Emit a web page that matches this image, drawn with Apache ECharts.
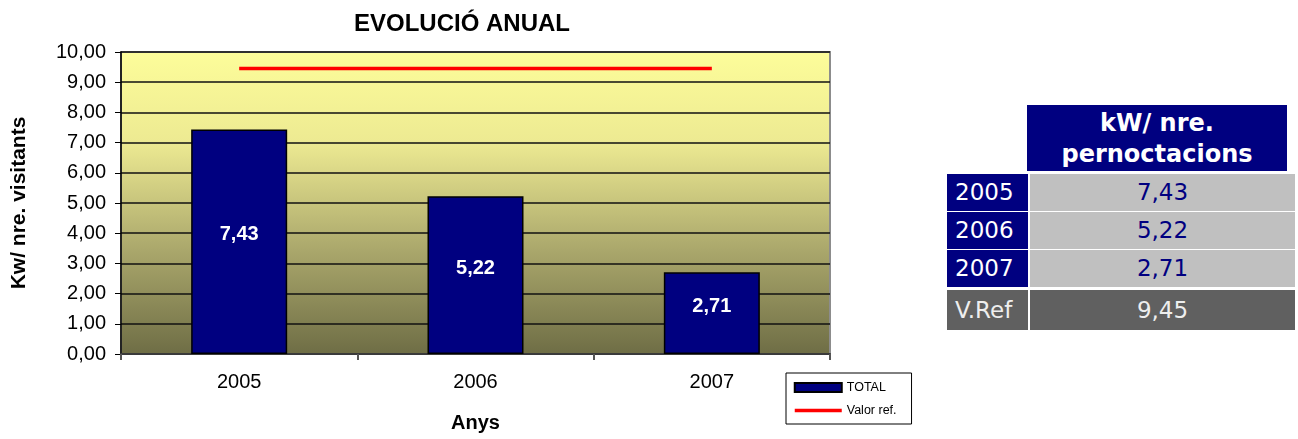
<!DOCTYPE html>
<html>
<head>
<meta charset="utf-8">
<script src="https://cdn.jsdelivr.net/npm/echarts@6/dist/echarts.min.js"></script>
<style>
  html, body { margin: 0; padding: 0; background: #fff; }
  #chart { position: absolute; left: 0; top: 0; width: 1298px; height: 439px; }
  .cell { position: absolute; box-sizing: border-box; font-family: "DejaVu Sans", Verdana, sans-serif; font-size: 23px; white-space: nowrap; }
</style>
</head>
<body>
<div id="chart"></div>
<div id="table"></div>
<script>
// ---- data ----
const titleText = 'EVOLUCIÓ ANUAL';
const categories = ['2005', '2006', '2007'];
const totalValues = [7.43, 5.22, 2.71];
const refValue = 9.45;
const refValues = [9.45, 9.45, 9.45];
const yAxisName = 'Kw/ nre. visitants';
const xAxisName = 'Anys';
const seriesNames = ['TOTAL', 'Valor ref.'];
const tableHeader = ['kW/ nre.', 'pernoctacions'];
const tableRefLabel = 'V.Ref';

const fmt = v => v.toFixed(2).replace('.', ',');

const chart = echarts.init(document.getElementById('chart'), null, { renderer: 'canvas' });
chart.setOption({
  backgroundColor: '#ffffff',
  animation: false,
  title: {
    text: titleText, left: 349, top: 7,
    textStyle: { fontFamily: 'Liberation Sans, Arial', fontSize: 24, fontWeight: 'bold', color: '#000' }
  },
  legend: {
    orient: 'vertical', left: 786, top: 373,
    width: 110,
    padding: [8, 15, 7, 7],
    borderColor: '#000', borderWidth: 1,
    itemWidth: 47, itemHeight: 9, itemGap: 10,
    textStyle: { fontFamily: 'Liberation Sans, Arial', fontSize: 12.5, color: '#000' },
    data: [
      { name: seriesNames[0], icon: 'rect' },
      { name: seriesNames[1], itemStyle: { color: 'rgba(0,0,0,0)', borderWidth: 0, opacity: 0 },
        lineStyle: { color: '#ff0000', width: 3.5 } }
    ]
  },
  grid: {
    left: 121, right: 468, top: 52, bottom: 85,
    show: true,
    borderColor: '#8c8c8c', borderWidth: 2,
    backgroundColor: new echarts.graphic.LinearGradient(0, 0, 0, 1, [
      { offset: 0, color: '#FDFD9A' },
      { offset: 0.3, color: '#EDEA92' },
      { offset: 0.65, color: '#ABA86C' },
      { offset: 1, color: '#6E6D45' }
    ])
  },
  xAxis: {
    type: 'category', data: categories, boundaryGap: true,
    name: xAxisName, nameLocation: 'middle', nameGap: 59,
    nameTextStyle: { fontFamily: 'Liberation Sans, Arial', fontSize: 20, fontWeight: 'bold', color: '#000' },
    axisLine: { lineStyle: { color: '#3a3a3a', width: 2 } },
    axisTick: { show: true, length: 6, lineStyle: { color: '#555', width: 2 } },
    axisLabel: { margin: 18, fontFamily: 'Liberation Sans, Arial', fontSize: 20, color: '#000' },
    splitLine: { show: false }
  },
  yAxis: {
    type: 'value', min: 0, max: 10, interval: 1,
    name: yAxisName, nameLocation: 'middle', nameGap: 91,
    nameTextStyle: { fontFamily: 'Liberation Sans, Arial', fontSize: 21, fontWeight: 'bold', color: '#000' },
    axisLine: { show: true, lineStyle: { color: '#000', width: 1.5 } },
    axisTick: { show: true, length: 6, lineStyle: { color: '#000' } },
    axisLabel: { margin: 15, fontFamily: 'Liberation Sans, Arial', fontSize: 20, color: '#000', formatter: v => fmt(v) },
    splitLine: { show: true, lineStyle: { color: '#111', width: 1.5 } }
  },
  series: [
    {
      name: seriesNames[0], type: 'bar', data: totalValues, barWidth: 96,
      itemStyle: { color: '#000080', borderColor: '#000', borderWidth: 1.5 },
      label: {
        show: true, position: 'inside', offset: [0, -7],
        fontFamily: 'Liberation Sans, Arial', fontSize: 20, fontWeight: 'bold', color: '#fff',
        formatter: p => fmt(p.value)
      }
    },
    {
      name: seriesNames[1], type: 'line', data: refValues, symbol: 'none',
      lineStyle: { color: '#ff0000', width: 3.5 }, itemStyle: { color: '#ff0000' }, z: 5
    }
  ]
});

// ---- side table ----
const tbl = document.getElementById('table');
function cell(x, y, w, h, bg, color, html, extra) {
  const d = document.createElement('div');
  d.className = 'cell';
  d.style.left = x + 'px'; d.style.top = y + 'px';
  d.style.width = w + 'px'; d.style.height = h + 'px';
  d.style.background = bg; d.style.color = color;
  d.style.lineHeight = h + 'px';
  if (extra) Object.assign(d.style, extra);
  d.innerHTML = html;
  tbl.appendChild(d);
  return d;
}
cell(1027, 105, 260, 66, '#000080', '#fff',
  tableHeader.join('<br>'),
  { fontWeight: 'bold', fontSize: '24px', textAlign: 'center', lineHeight: '31px', paddingTop: '3px' });
const rowTops = [174, 212, 250];
const rowHeights = [37, 37, 37];
categories.forEach((c, i) => {
  cell(947, rowTops[i], 81, rowHeights[i], '#000080', '#fff', c, { paddingLeft: '8px' });
  cell(1030, rowTops[i], 265, rowHeights[i], '#C0C0C0', '#000080', fmt(totalValues[i]), { textAlign: 'center' });
});
cell(947, 290, 81, 40, '#606060', '#eeeeee', tableRefLabel, { paddingLeft: '8px' });
cell(1030, 290, 265, 40, '#606060', '#eeeeee', fmt(refValue), { textAlign: 'center' });
</script>
</body>
</html>
